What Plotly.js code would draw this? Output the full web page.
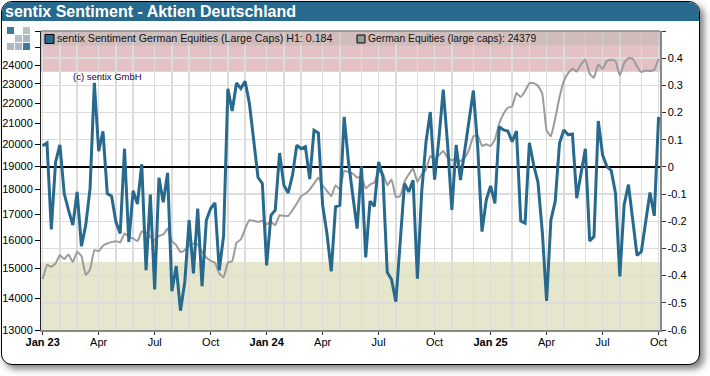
<!DOCTYPE html>
<html><head><meta charset="utf-8">
<script src="https://cdn.plot.ly/plotly-3.0.1.min.js"></script>
<style>
html,body{margin:0;padding:0;background:#fff;width:710px;height:376px;overflow:hidden}
#frame{position:absolute;left:1px;top:1px;width:697px;height:362px;border:1px solid #000;border-radius:11px;background:#fff;box-shadow:4px 4px 7px rgba(0,0,0,.5);overflow:hidden}
#head{position:absolute;left:0;top:0;width:100%;height:19px;background:#286a8d}
.lg{position:absolute;width:7px;height:7px}
#chart{position:absolute;left:0;top:0;width:710px;height:376px}
</style></head><body>
<div id="frame"><div id="head"></div></div>
<div class="lg" style="left:7px;top:27px;background:#3b79a3"></div>
<div class="lg" style="left:23px;top:27px;background:#b4c2cb"></div>
<div class="lg" style="left:15px;top:35px;background:#b4c2cb"></div>
<div class="lg" style="left:23px;top:35px;background:#a9b9c3"></div>
<div class="lg" style="left:7px;top:43px;background:#a9b9c3"></div>
<div class="lg" style="left:15px;top:43px;background:#a9b9c3"></div>
<div class="lg" style="left:23px;top:43px;background:#3b79a3"></div>
<div id="chart"></div>
<script>
const sentiment = [
 .078,.088,-.230,.018,.081,-.098,-.159,-.214,-.092,-.292,-.214,-.080,.309,.058,.131,-.098,-.108,-.202,-.245,.067,
 -.276,-.088,-.137,.010,-.380,-.102,-.451,-.040,-.130,-.022,-.457,-.365,-.529,-.423,-.196,-.392,-.153,-.439,-.196,-.153,
 -.132,-.380,-.255,.287,.206,.309,.288,.315,.233,.092,-.039,-.061,-.362,-.178,-.159,.051,-.067,-.096,-.031,.080,
 .067,.074,-.045,.135,.125,-.141,-.245,-.384,-.147,-.141,.184,.018,-.110,-.227,.002,-.333,-.126,-.145,.018,-.037,
 -.388,-.414,-.496,-.282,-.061,-.092,-.049,-.411,-.092,.092,.202,-.047,.104,.284,.086,-.158,.081,-.048,.0625,.185,
 .281,.075,-.238,-.121,-.070,-.134,.148,.136,.132,.093,.132,-.199,-.207,.089,.007,-.056,-.238,-.493,-.195,-.127,
 .087,.136,.118,.121,-.115,-.023,.067,-.272,-.256,.169,.044,.001,-.013,-.097,-.403,-.140,-.065,-.195,-.326,-.311,
 -.201,-.094,-.180,.184];
const equities = [
 14630,15112,15054,15170,15465,15323,15490,15217,15585,15430,14765,14960,15644,15609,15803,15888,15936,15974,15925,16260,
 16135,16073,15974,16335,16298,16135,16011,16172,16222,16450,15974,15827,15572,15644,15827,15888,15851,15585,15381,15263,
 15193,14823,14686,15193,15251,15913,16035,16437,16769,16743,16704,16743,16614,16704,16577,16964,16938,16938,17163,17427,
 17727,17837,18002,18254,18510,18186,17945,17727,18186,18002,18797,18754,18682,18510,18538,18045,18213,18297,18784,18682,
 18186,18426,17700,17727,18326,18652,18899,18326,18652,18854,19462,19296,19493,19689,19388,19268,19344,19224,19386,19749,
 20367,20414,19917,19993,19917,20211,20973,21464,21764,21831,22515,22308,22620,23042,23042,22900,22481,20651,20367,21217,
 22308,23149,23581,23820,23673,24059,24320,23546,23328,24059,23820,24246,24339,24246,23455,24134,24414,24379,23948,23636,
 23728,23691,23765,24379];
const sentimentName = 'sentix Sentiment German Equities (Large Caps) H1: 0.184';
const equitiesName = 'German Equities (large caps): 24379';
const titleText = 'sentix Sentiment - Aktien Deutschland';
const quarterLabels = ['<b>Jan 23</b>','Apr','Jul','Oct','<b>Jan 24</b>','Apr','Jul','Oct','<b>Jan 25</b>','Apr','Jul','Oct'];
const quarterWeeks = [0,13,26,39,52,65,78,91,104,117,130,143];
const monthWeeks = [4,8,17,21,30,34,43,47,56,60,69,74,82,87,95,100,109,113,121,126,134,139];
const leftTicks = [13000,14000,15000,16000,17000,18000,19000,20000,21000,22000,23000,24000,25000,26000];
const leftLabels = ['13000','14000','15000','16000','17000','18000','19000','20000','21000','22000','23000','24000','',''];
const rightTicks = [-.6,-.5,-.4,-.3,-.2,-.1,0,.1,.2,.3,.4,.5];
const rightLabels = ['-0.6','-0.5','-0.4','-0.3','-0.2','-0.1','0','0.1','0.2','0.3','0.4',''];

const W=710,H=376,L=41,R=660,T=30.5,B=330;
const px=x=>(x-L)/(R-L), py=y=>(B-y)/(B-T);
const t0=Date.UTC(2023,0,6);
const dates=sentiment.map((_,i)=>new Date(t0+i*7*864e5).toISOString().slice(0,10));
const pick=a=>a.map(i=>dates[i]);
const font='"Liberation Sans",Arial,sans-serif';
const xrange=[t0-0.39*7*864e5, t0+143.33*7*864e5].map(v=>new Date(v).toISOString().slice(0,19).replace('T',' '));

const rect=(x0,x1,y0,y1,fill,line,layer)=>({type:'rect',xref:'paper',yref:'paper',x0:px(x0),x1:px(x1),y0:py(y0),y1:py(y1),fillcolor:fill,line:line||{width:0},layer:layer||'above'});

Plotly.newPlot('chart',[
 {x:dates,y:equities,yaxis:'y',mode:'lines',name:equitiesName,line:{color:'#9b9b9b',width:2,shape:'spline',smoothing:0.3},hoverinfo:'x+y'},
 {x:dates,y:sentiment,yaxis:'y2',mode:'lines',name:sentimentName,line:{color:'#286a8d',width:3},hoverinfo:'x+y'}
],{
 width:W,height:H,margin:{l:L,r:W-R,t:T,b:H-B},
 paper_bgcolor:'rgba(0,0,0,0)',plot_bgcolor:'rgba(0,0,0,0)',showlegend:false,
 font:{family:font,size:11,color:'#000'},
 title:{text:'<b>'+titleText+'</b>',x:5/W,xref:'container',xanchor:'left',yanchor:'middle',y:1-11/H,yref:'container',font:{family:font,size:16,color:'#fff'}},
 xaxis:{type:'date',range:xrange,tickmode:'array',tickvals:pick(quarterWeeks),ticktext:quarterLabels,ticks:'outside',ticklen:3,tickcolor:'#333',tickfont:{size:11},ticklabelstandoff:-2,
  showgrid:true,gridcolor:'#dcdcdc',gridwidth:1.5,showline:true,linecolor:'#888',linewidth:1.5,zeroline:false,
  minor:{tickmode:'array',tickvals:pick(monthWeeks),showgrid:true,gridcolor:'#dcdcdc',gridwidth:1.5,ticks:''}},
 yaxis:{type:'log',range:[Math.log10(13000),Math.log10(26000)],tickmode:'array',tickvals:leftTicks,ticktext:leftLabels,ticks:'outside',ticklen:5,tickcolor:'#000',tickfont:{size:11},
  showgrid:false,showline:true,linecolor:'#222',linewidth:1,zeroline:false},
 yaxis2:{overlaying:'y',side:'right',range:[-.6,.5],tickmode:'array',tickvals:rightTicks,ticktext:rightLabels,ticks:'outside',ticklen:4,tickcolor:'#333',tickfont:{size:11},
  showgrid:true,gridcolor:'#dcdcdc',gridwidth:1.5,showline:true,linecolor:'#888',linewidth:1.5,zeroline:true,zerolinecolor:'#000',zerolinewidth:2.5},
 shapes:[
  {type:'rect',xref:'paper',yref:'y2',x0:0,x1:1,y0:.35,y1:.5,fillcolor:'#e3c1c4',line:{width:0},layer:'between'},
  {type:'rect',xref:'paper',yref:'y2',x0:0,x1:1,y0:-.6,y1:-.35,fillcolor:'#e6e6cc',line:{width:0},layer:'between'},
  rect(L,R,T,45,'rgba(175,180,175,.35)'),
  {type:'line',xref:'paper',yref:'paper',x0:0,x1:1,y0:1,y1:1,line:{color:'#888',width:1.5}},
  rect(45,54,34,43,'#286a8d',{color:'#000',width:1}),
  rect(357,365,34.5,42.5,'#999',{color:'#000',width:1})
 ],
 annotations:[
  {xref:'paper',yref:'paper',x:px(55),y:py(38),xanchor:'left',yanchor:'middle',showarrow:false,text:sentimentName,font:{size:10.67,color:'#111'}},
  {xref:'paper',yref:'paper',x:px(366),y:py(38),xanchor:'left',yanchor:'middle',showarrow:false,text:equitiesName,font:{size:10.3,color:'#111'}},
  {xref:'paper',yref:'paper',x:px(70.5),y:py(76),xanchor:'left',yanchor:'middle',showarrow:false,text:'(c) sentix GmbH',font:{size:9.5,color:'#200040'}}
 ]
},{displayModeBar:false,staticPlot:true});
</script></body></html>
